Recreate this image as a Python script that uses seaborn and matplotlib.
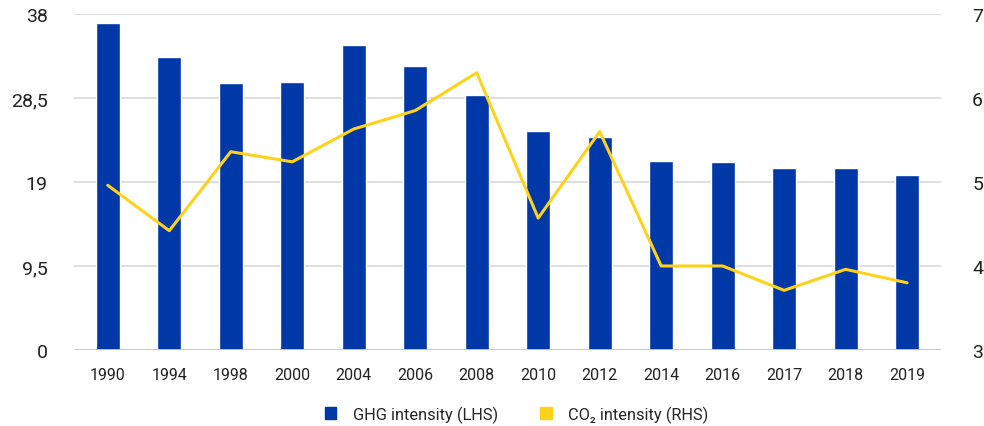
import numpy as np
import pandas as pd
import seaborn as sns
import matplotlib.pyplot as plt
from matplotlib.patches import Patch

years = ["1990", "1994", "1998", "2000", "2004", "2006", "2008",
         "2010", "2012", "2014", "2016", "2017", "2018", "2019"]
ghg_intensity = [37.0, 33.1, 30.2, 30.3, 34.5, 32.1, 28.8,
                 24.8, 24.1, 21.4, 21.3, 20.6, 20.6, 19.8]
co2_intensity = [4.96, 4.42, 5.36, 5.24, 5.63, 5.85, 6.30,
                 4.57, 5.60, 4.00, 4.00, 3.71, 3.96, 3.80]
left_ticks = [0, 9.5, 19, 28.5, 38]
right_ticks = [3, 4, 5, 6, 7]

blue = "#0038A8"
yellow = "#FFD21A"

sns.set_theme(style="white")
plt.rcParams["font.family"] = ["Roboto", "DejaVu Sans"]

df = pd.DataFrame({"year": years, "ghg": ghg_intensity, "co2": co2_intensity})
df["pos"] = np.arange(len(df))

fig = plt.figure(figsize=(9.84, 4.27), dpi=100)
ax = fig.add_axes([0.0752, 0.178, 0.881, 0.787])

sns.barplot(data=df, x="year", y="ghg", color=blue, width=0.39,
            saturation=1, ax=ax, zorder=2)
ax.set_ylim(0, 38)
ax.set_yticks(left_ticks)
ax.set_yticklabels([f"{t:g}".replace(".", ",") for t in left_ticks])
ax.yaxis.grid(True, color="#d9d9d9", linewidth=1.2, zorder=0)
ax.set_axisbelow(True)
ax.axhline(0, color="#c8c8c8", linewidth=2, zorder=3)
ax.set_xlim(-0.55, len(years) - 0.45)
ax.set_xlabel("")
ax.set_ylabel("")
ax.tick_params(axis="y", labelsize=14, length=0, pad=19, colors="#222222")
ax.tick_params(axis="x", labelsize=11.5, length=0, pad=12, colors="#222222")

ax2 = ax.twinx()
sns.lineplot(data=df, x="pos", y="co2", color=yellow, linewidth=2.2, ax=ax2)
ax2.set_ylim(3, 7)
ax2.set_yticks(right_ticks)
ax2.set_ylabel("")
ax2.tick_params(axis="y", labelsize=14, length=0, pad=22.5, colors="#222222")
ax2.set_xlim(ax.get_xlim())

for a in (ax, ax2):
    for s in a.spines.values():
        s.set_visible(False)

handles = [Patch(color=blue, label="GHG intensity (LHS)"),
           Patch(color=yellow, label="CO₂ intensity (RHS)")]
fig.legend(handles=handles, loc="center", bbox_to_anchor=(0.525, 0.028),
           ncol=2, frameon=False, fontsize=11.8, handlelength=0.7,
           handleheight=0.7, columnspacing=2.6, handletextpad=1.0)

fig.savefig("out.png", dpi=100)
